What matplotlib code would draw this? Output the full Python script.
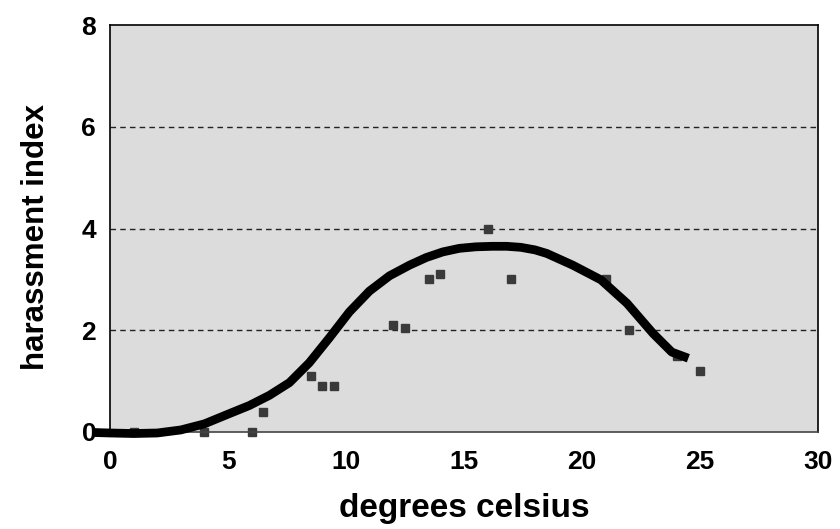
import matplotlib
matplotlib.use("Agg")
import matplotlib.pyplot as plt

# observed points (temperature, harassment index)
temp = [1, 4, 6, 6.5, 8.5, 9, 9.5, 12, 12.5, 13.5, 14, 16, 17, 21, 22, 24, 25]
harass = [0, 0, 0, 0.4, 1.1, 0.9, 0.9, 2.1, 2.05, 3.0, 3.1, 4.0, 3.0, 3.0, 2.0, 1.5, 1.2]

# fitted curve
fit_x = [-0.7, 0, 1, 2, 3, 4, 5.05, 5.9, 6.75, 7.6, 8.44, 9.29, 10.14, 10.99,
         11.84, 12.69, 13.4, 14.1, 14.8, 15.5, 16.2, 16.8, 17.4, 18.0, 18.5, 19.6,
         20.8, 21.9, 23.0, 23.8, 24.5]
fit_y = [-0.01, -0.02, -0.03, -0.02, 0.04, 0.16, 0.36, 0.52, 0.72, 0.97, 1.36, 1.85,
         2.36, 2.77, 3.07, 3.28, 3.43, 3.54, 3.61, 3.64, 3.65, 3.65, 3.63, 3.58, 3.51, 3.28,
         2.99, 2.53, 1.94, 1.57, 1.45]

xticks = [0, 5, 10, 15, 20, 25, 30]
yticks = [0, 2, 4, 6, 8]

plt.rcParams['font.family'] = ['Liberation Sans', 'DejaVu Sans']
plt.rcParams['font.weight'] = 'bold'

fig = plt.figure(figsize=(8.4, 5.29), dpi=100)
ax = fig.add_axes([0.131, 0.1834, 0.843, 0.7693])
ax.set_facecolor('#dcdcdc')

for g in [2, 4, 6]:
    ax.axhline(g, color='#222222', lw=1, ls=(0, (4, 3)), zorder=1)

ax.plot(temp, harass, 's', color='#3a3a3a', ms=6, zorder=2, clip_on=False)
ax.plot(fit_x, fit_y, color='black', lw=6.3, solid_capstyle='butt',
        solid_joinstyle='round', zorder=3, clip_on=False)

ax.set_xlim(0, 30)
ax.set_ylim(0, 8)
ax.set_xticks(xticks)
ax.set_yticks(yticks)
ax.tick_params(axis='both', length=0, labelsize=19)
ax.tick_params(axis='x', pad=13)
ax.tick_params(axis='y', pad=10)
for lab in ax.get_xticklabels() + ax.get_yticklabels():
    lab.set_fontweight('bold')

for side in ['left', 'top', 'right']:
    ax.spines[side].set_color('black')
    ax.spines[side].set_linewidth(1.2)
ax.spines['bottom'].set_color('#444444')
ax.spines['bottom'].set_linewidth(1.2)

ax.set_xlabel('degrees celsius', fontsize=24, fontweight='bold', labelpad=14)
ax.set_ylabel('harassment index', fontsize=22.5, fontweight='bold')
ax.yaxis.set_label_coords(-0.083, 0.478)

fig.savefig('out.png', dpi=100)
